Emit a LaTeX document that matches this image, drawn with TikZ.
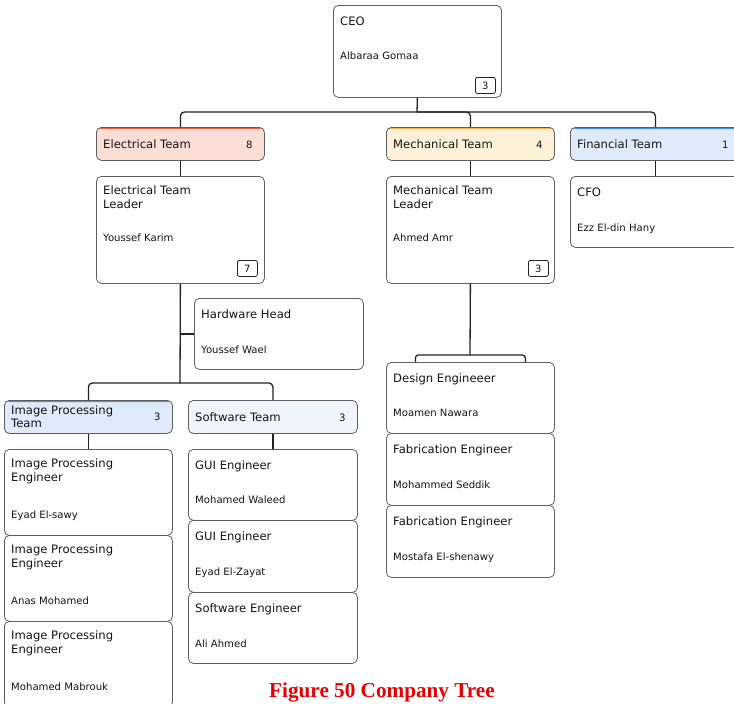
\documentclass[tikz,border=0pt]{standalone}
\usepackage{fontspec}
\setmainfont{DejaVu Sans}
\newfontfamily\capfont{Liberation Serif}
\usetikzlibrary{calc}
\definecolor{cardline}{HTML}{5E5E5E}
\definecolor{linecol}{HTML}{222222}
\definecolor{txt}{HTML}{141414}
\definecolor{elecF}{HTML}{FBDFD6}
\definecolor{elecT}{HTML}{E0664C}
\definecolor{mechF}{HTML}{FDF1D9}
\definecolor{mechT}{HTML}{EFB54A}
\definecolor{finF}{HTML}{DFEBFA}
\definecolor{finT}{HTML}{4C8FDD}
\definecolor{swF}{HTML}{F0F4FB}
\definecolor{swT}{HTML}{F0F4FB}
\definecolor{capred}{HTML}{E60000}
\tikzset{
  card/.style={draw=cardline, line width=0.8pt, rounded corners=5pt, fill=white, inner sep=0pt},
  hdr/.style={card, fill=#1F, path picture={\fill[#1T] ([yshift=-1.6pt]path picture bounding box.north west) rectangle (path picture bounding box.north east);}},
  ttl/.style={inner sep=0pt, text=txt, font=\fontsize{11.6}{14}\selectfont},
  nm/.style={inner sep=0pt, text=txt, font=\fontsize{10.1}{12}\selectfont},
  badge/.style={draw=linecol, line width=0.8pt, rounded corners=2pt, inner sep=0pt, minimum width=20pt, minimum height=16pt, text=txt, font=\fontsize{10}{12}\selectfont},
  conn/.style={draw=linecol, line width=1.3pt, rounded corners=4pt},
}
% id x y w h title name nameoffset
\newcommand\onecard[8]{%
  \node[card, minimum width=#4pt, minimum height=#5pt, anchor=north west] (#1) at (#2,#3) {};
  \node[ttl, anchor=base west] (#1-t) at ([shift={(7,20.5)}]#1.north west) {#6};
  \node[nm, anchor=base west] (#1-n) at ([shift={(7,#8)}]#1.north west) {#7};}
% id x y w h title1 title2 name nameoffset
\newcommand\twocard[9]{%
  \node[card, minimum width=#4pt, minimum height=#5pt, anchor=north west] (#1) at (#2,#3) {};
  \node[ttl, anchor=base west] (#1-t) at ([shift={(7,18.5)}]#1.north west) {#6};
  \node[ttl, anchor=base west] (#1-u) at ([shift={(7,32.5)}]#1.north west) {#7};
  \node[nm, anchor=base west] (#1-n) at ([shift={(7,#9)}]#1.north west) {#8};}
% id x y w colour text number
\newcommand\teamhdr[7]{%
  \node[hdr=#5, minimum width=#4pt, minimum height=33pt, anchor=north west] (#1) at (#2,#3) {};
  \node[ttl, anchor=base west] (#1-t) at ([shift={(7,21)}]#1.north west) {#6};
  \node[nm, anchor=base east] (#1-c) at ([shift={(-12,21)}]#1.north east) {#7};}
\begin{document}
\begin{tikzpicture}[x=1pt,y=-1pt]
\useasboundingbox (0,0) rectangle (734,704);
\fill[white] (0,0) rectangle (734,704);
\begin{scope}
\clip (0,0) rectangle (734,704);
% CEO
\onecard{ceo}{333}{5}{168}{92}{CEO}{Albaraa Gomaa}{54}
\node[badge, anchor=south east] (ceo-b) at ([shift={(-6,-4)}]ceo.south east) {3};
% team headers
\teamhdr{elt}{96}{127}{168}{elec}{Electrical Team}{8}
\teamhdr{mct}{386}{127}{168}{mech}{Mechanical Team}{4}
\teamhdr{fnt}{570}{127}{170}{fin}{Financial Team}{1}
% leaders
\twocard{eld}{96}{176}{168}{107}{Electrical Team}{Leader}{Youssef Karim}{65}
\node[badge, anchor=south east] (eld-b) at ([shift={(-7,-7)}]eld.south east) {7};
\twocard{mld}{386}{176}{168}{107}{Mechanical Team}{Leader}{Ahmed Amr}{65}
\node[badge, anchor=south east] (mld-b) at ([shift={(-6,-7)}]mld.south east) {3};
\onecard{cfo}{570}{176}{170}{71}{CFO}{Ezz El-din Hany}{55}
% hardware head
\onecard{hw}{194}{298}{169}{71}{Hardware Head}{Youssef Wael}{55}
% sub-team headers
\node[hdr=fin, minimum width=168pt, minimum height=33pt, anchor=north west] (ipt) at (4,400) {};
\node[ttl, anchor=base west] (ipt-t) at ([shift={(7,14)}]ipt.north west) {Image Processing};
\node[ttl, anchor=base west] (ipt-u) at ([shift={(7,27.5)}]ipt.north west) {Team};
\node[nm, anchor=base east] (ipt-c) at ([shift={(-12,20)}]ipt.north east) {3};
\teamhdr{swt}{188}{400}{169}{sw}{Software Team}{3}
% image processing engineers
\twocard{ip1}{4}{449}{168}{86}{Image Processing}{Engineer}{Eyad El-sawy}{69}
\twocard{ip2}{4}{535}{168}{86}{Image Processing}{Engineer}{Anas Mohamed}{69}
\twocard{ip3}{4}{621}{168}{86}{Image Processing}{Engineer}{Mohamed Mabrouk}{69}
% software engineers
\onecard{sw1}{188}{449}{169}{71}{GUI Engineer}{Mohamed Waleed}{54}
\onecard{sw2}{188}{520}{169}{72}{GUI Engineer}{Eyad El-Zayat}{55}
\onecard{sw3}{188}{592}{169}{71}{Software Engineer}{Ali Ahmed}{55}
% mechanical engineers
\onecard{des}{386}{362}{168}{71}{Design Engineeer}{Moamen Nawara}{54}
\onecard{fab1}{386}{433}{168}{72}{Fabrication Engineer}{Mohammed Seddik}{55}
\onecard{fab2}{386}{505}{168}{72}{Fabrication Engineer}{Mostafa El-shenawy}{55}
% connectors
\coordinate (j1) at (417,112);
\draw[conn] (ceo.south) -- (j1);
\draw[conn] (j1) -| (elt.north);
\draw[conn] (j1) -| (mct.north);
\draw[conn] (j1) -| (fnt.north);
\draw[conn] (elt.south) -- (eld.north);
\draw[conn] (mct.south) -- (mld.north);
\draw[conn] (fnt.south) -- (cfo.north);
\coordinate (j2) at (180,383);
\draw[conn] (eld.south) -- (j2);
\draw[conn] (hw.west) -- (hw.west -| eld.south);
\draw[conn] (j2) -| (ipt.north);
\draw[conn] (j2) -| (swt.north);
\draw[conn] (ipt.south) -- (ip1.north);
\draw[conn] (swt.south) -- (sw1.north);
\coordinate (j3) at (470,355);
\draw[conn] (mld.south) -- (j3);
\draw[conn, rounded corners=3pt] (j3) -| ([xshift=-55pt]des.north);
\draw[conn, rounded corners=3pt] (j3) -| ([xshift=55pt]des.north);
\end{scope}
% caption
\node[font=\capfont\bfseries\fontsize{21.2}{24}\selectfont, text=capred, anchor=base] (cap) at (382,697) {Figure 50 Company Tree};
\end{tikzpicture}
\end{document}
